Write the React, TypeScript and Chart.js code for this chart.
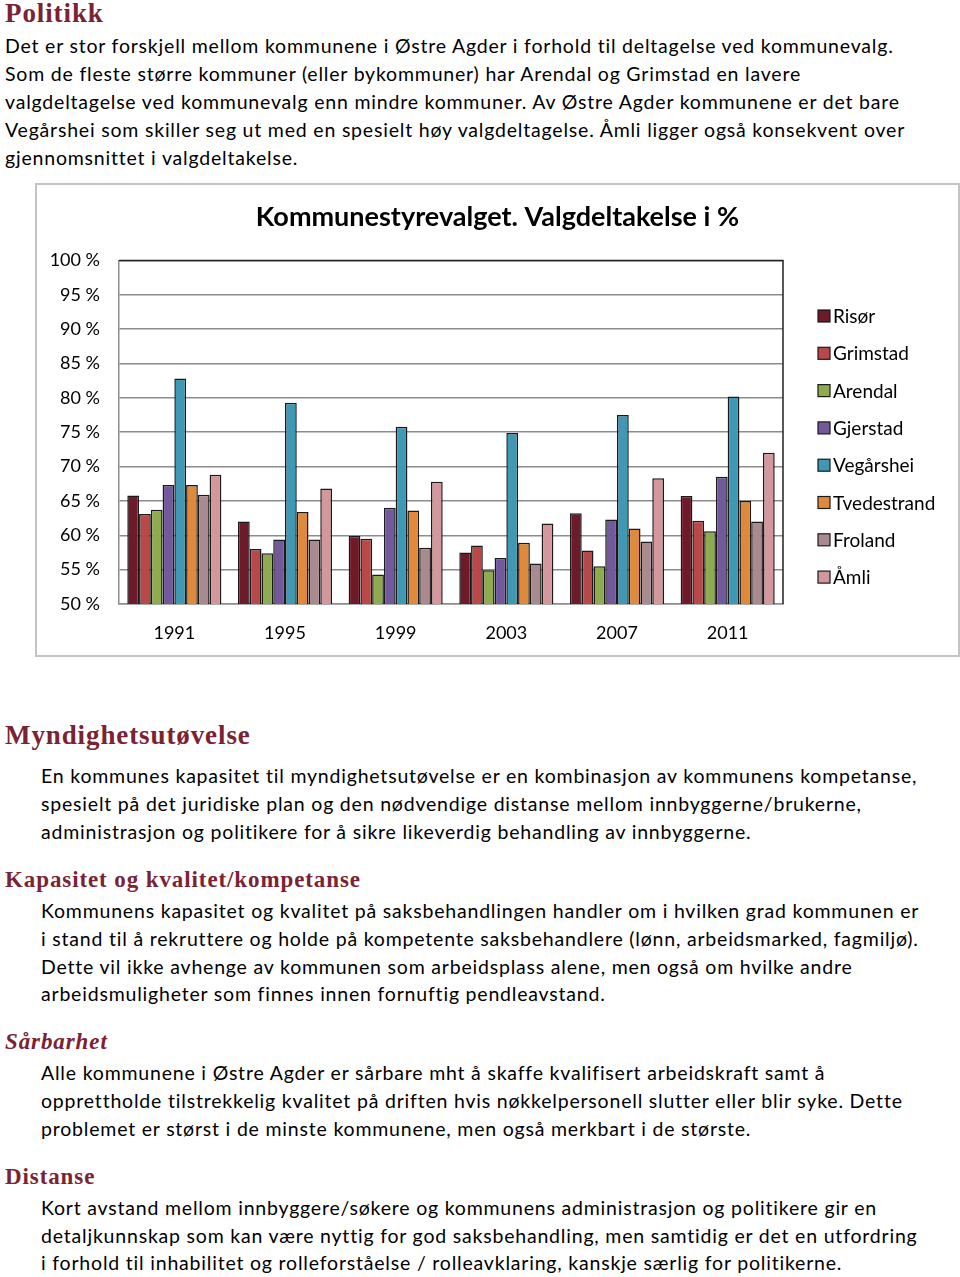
import React, { useEffect, useRef } from "react";
import { Chart, registerables } from "chart.js";

Chart.register(...registerables);

const years = ["1991", "1995", "1999", "2003", "2007", "2011"];
const municipalities = ["Risør", "Grimstad", "Arendal", "Gjerstad", "Vegårshei", "Tvedestrand", "Froland", "Åmli"];
const risor = [65.8, 62.0, 59.9, 57.5, 63.2, 65.7];
const grimstad = [63.1, 58.0, 59.5, 58.5, 57.8, 62.1];
const arendal = [63.7, 57.4, 54.3, 54.9, 55.5, 60.6];
const gjerstad = [67.3, 59.4, 64.0, 56.7, 62.3, 68.5];
const vegarshei = [82.8, 79.3, 75.8, 74.9, 77.5, 80.2];
const tvedestrand = [67.3, 63.4, 63.6, 58.9, 61.0, 65.0];
const froland = [65.9, 59.4, 58.2, 55.9, 59.1, 62.0];
const amli = [68.8, 66.8, 67.8, 61.7, 68.3, 72.0];
const seriesValues = [risor, grimstad, arendal, gjerstad, vegarshei, tvedestrand, froland, amli];
const seriesColors = ["#6e1a28", "#b94848", "#8fab4f", "#71599b", "#3f99b5", "#e0893b", "#a98b8f", "#d4979b"];
const yTickMin = 50;
const yTickMax = 100;
const yTickStep = 5;
const chartTitle = "Kommunestyrevalget. Valgdeltakelse i %";

const HEAD = "#7a2334";
const BODY_FONT = "Lato, 'Open Sans', sans-serif";
const HEAD_FONT = "'Liberation Serif', 'DejaVu Serif', serif";

type Line = { x: number; y: number; text: string };

const paragraphs: { heading: string; hy: number; hsize: number; italic?: boolean; lines: Line[] }[] = [
  {
    heading: "Politikk",
    hy: 13,
    hsize: 27,
    lines: [
      { x: 5, y: 46, text: "Det er stor forskjell mellom kommunene i Østre Agder i forhold til deltagelse ved kommunevalg." },
      { x: 5, y: 74, text: "Som de fleste større kommuner (eller bykommuner) har Arendal og Grimstad en lavere" },
      { x: 5, y: 102, text: "valgdeltagelse ved kommunevalg enn mindre kommuner. Av Østre Agder kommunene er det bare" },
      { x: 5, y: 130, text: "Vegårshei som skiller seg ut med en spesielt høy valgdeltagelse. Åmli ligger også konsekvent over" },
      { x: 5, y: 158, text: "gjennomsnittet i valgdeltakelse." },
    ],
  },
  {
    heading: "Myndighetsutøvelse",
    hy: 735,
    hsize: 27,
    lines: [
      { x: 41, y: 776, text: "En kommunes kapasitet til myndighetsutøvelse er en kombinasjon av kommunens kompetanse," },
      { x: 41, y: 804, text: "spesielt på det juridiske plan og den nødvendige distanse mellom innbyggerne/brukerne," },
      { x: 41, y: 832, text: "administrasjon og politikere for å sikre likeverdig behandling av innbyggerne." },
    ],
  },
  {
    heading: "Kapasitet og kvalitet/kompetanse",
    hy: 880,
    hsize: 23,
    lines: [
      { x: 41, y: 911, text: "Kommunens kapasitet og kvalitet på saksbehandlingen handler om i hvilken grad kommunen er" },
      { x: 41, y: 939, text: "i stand til å rekruttere og holde på kompetente saksbehandlere (lønn, arbeidsmarked, fagmiljø)." },
      { x: 41, y: 967, text: "Dette vil ikke avhenge av kommunen som arbeidsplass alene, men også om hvilke andre" },
      { x: 41, y: 994, text: "arbeidsmuligheter som finnes innen fornuftig pendleavstand." },
    ],
  },
  {
    heading: "Sårbarhet",
    hy: 1042,
    hsize: 23,
    italic: true,
    lines: [
      { x: 41, y: 1073, text: "Alle kommunene i Østre Agder er sårbare mht å skaffe kvalifisert arbeidskraft samt å" },
      { x: 41, y: 1101, text: "opprettholde tilstrekkelig kvalitet på driften hvis nøkkelpersonell slutter eller blir syke. Dette" },
      { x: 41, y: 1129, text: "problemet er størst i de minste kommunene, men også merkbart i de største." },
    ],
  },
  {
    heading: "Distanse",
    hy: 1177,
    hsize: 23,
    lines: [
      { x: 41, y: 1208, text: "Kort avstand mellom innbyggere/søkere og kommunens administrasjon og politikere gir en" },
      { x: 41, y: 1236, text: "detaljkunnskap som kan være nyttig for god saksbehandling, men samtidig er det en utfordring" },
      { x: 41, y: 1263, text: "i forhold til inhabilitet og rolleforståelse / rolleavklaring, kanskje særlig for politikerne." },
    ],
  },
];

const plotFrame = {
  id: "plotFrame",
  afterDatasetsDraw(chart: any) {
    const { ctx, chartArea } = chart;
    ctx.save();
    ctx.strokeStyle = "#222";
    ctx.lineWidth = 1.5;
    ctx.beginPath();
    ctx.moveTo(chartArea.left, chartArea.top);
    ctx.lineTo(chartArea.right, chartArea.top);
    ctx.lineTo(chartArea.right, chartArea.bottom);
    ctx.stroke();
    ctx.restore();
  },
};

// Legend drawn from the chart's own datasets (labels + colours)
const sideLegend = {
  id: "sideLegend",
  afterDraw(chart: any) {
    const { ctx, chartArea } = chart;
    const boxX = chartArea.right + 35;
    const firstY = 131;
    const step = 37.3;
    ctx.save();
    ctx.font = `19px ${BODY_FONT}`;
    ctx.textBaseline = "middle";
    ctx.textAlign = "left";
    chart.data.datasets.forEach((ds: any, i: number) => {
      const cy = firstY + i * step;
      ctx.fillStyle = ds.backgroundColor;
      ctx.fillRect(boxX, cy - 6, 12, 12);
      ctx.strokeStyle = "#1a1a1a";
      ctx.lineWidth = 1.2;
      ctx.strokeRect(boxX, cy - 6, 12, 12);
      ctx.fillStyle = "#000";
      ctx.fillText(ds.label, boxX + 15, cy + 1);
    });
    ctx.restore();
  },
};

function ElectionChart() {
  const ref = useRef<HTMLCanvasElement | null>(null);
  useEffect(() => {
    if (!ref.current) return;
    const chart = new Chart(ref.current, {
      type: "bar",
      data: {
        labels: years,
        datasets: municipalities.map((m, i) => ({
          label: m,
          data: seriesValues[i],
          backgroundColor: seriesColors[i],
          borderColor: "#1a1a1a",
          borderWidth: 1.5,
          categoryPercentage: 0.85,
          barPercentage: 1.0,
          yAxisID: "y",
        })),
      },
      options: {
        responsive: false,
        animation: false,
        layout: { padding: { left: 0, right: 0, top: 0, bottom: 10 } },
        plugins: {
          title: {
            display: true,
            text: chartTitle,
            color: "#000",
            font: { family: BODY_FONT, size: 27, weight: "bold" },
            padding: { top: 16, bottom: 27 },
          },
          legend: { display: false },
          tooltip: { enabled: false },
        },
        scales: {
          x: {
            afterFit: (scale: any) => {
              scale.height = 41;
            },
            grid: { display: false },
            border: { color: "#8c8c8c", width: 1.5 },
            ticks: { color: "#000", font: { family: BODY_FONT, size: 18 }, padding: 10 },
          },
          y: {
            min: yTickMin,
            max: yTickMax,
            afterFit: (scale: any) => {
              scale.width = 82;
            },
            grid: { color: "#8c8c8c", lineWidth: 1.5, drawTicks: false },
            border: { color: "#8c8c8c", width: 1.5 },
            ticks: {
              stepSize: yTickStep,
              color: "#000",
              font: { family: BODY_FONT, size: 18 },
              padding: 19,
              callback: (v: any) => `${v} %`,
            },
          },
          legendSpace: {
            type: "linear",
            position: "right",
            display: true,
            afterFit: (scale: any) => {
              scale.width = 175;
            },
            grid: { display: false, drawTicks: false },
            border: { display: false },
            ticks: { display: false },
          },
        },
      },
      plugins: [plotFrame, sideLegend],
    });
    return () => chart.destroy();
  }, []);
  return <canvas ref={ref} width={921} height={470} style={{ display: "block" }} />;
}

export default function App() {
  return (
    <div style={{ position: "absolute", left: 0, top: 0, width: 960, height: 1277, background: "#fff", overflow: "hidden" }}>
      {paragraphs.map((p, pi) => (
        <React.Fragment key={pi}>
          <div
            style={{
              position: "absolute",
              left: 5,
              top: p.hy - 18,
              height: 36,
              lineHeight: "36px",
              fontFamily: HEAD_FONT,
              fontWeight: "bold",
              fontStyle: p.italic ? "italic" : "normal",
              fontSize: p.hsize,
              letterSpacing: 0.9,
              color: HEAD,
              whiteSpace: "nowrap",
            }}
          >
            {p.heading}
          </div>
          {p.lines.map((l, li) => (
            <div
              key={li}
              style={{
                position: "absolute",
                left: l.x,
                top: l.y - 14,
                height: 28,
                lineHeight: "28px",
                fontFamily: BODY_FONT,
                fontSize: 19.5,
                letterSpacing: 0.8,
                color: "#000",
                whiteSpace: "nowrap",
              }}
            >
              {l.text}
            </div>
          ))}
        </React.Fragment>
      ))}
      <div
        style={{
          position: "absolute",
          left: 35,
          top: 183,
          width: 925,
          height: 474,
          boxSizing: "border-box",
          border: "2px solid #c4c4c4",
          background: "#fff",
        }}
      >
        <ElectionChart />
      </div>
    </div>
  );
}
